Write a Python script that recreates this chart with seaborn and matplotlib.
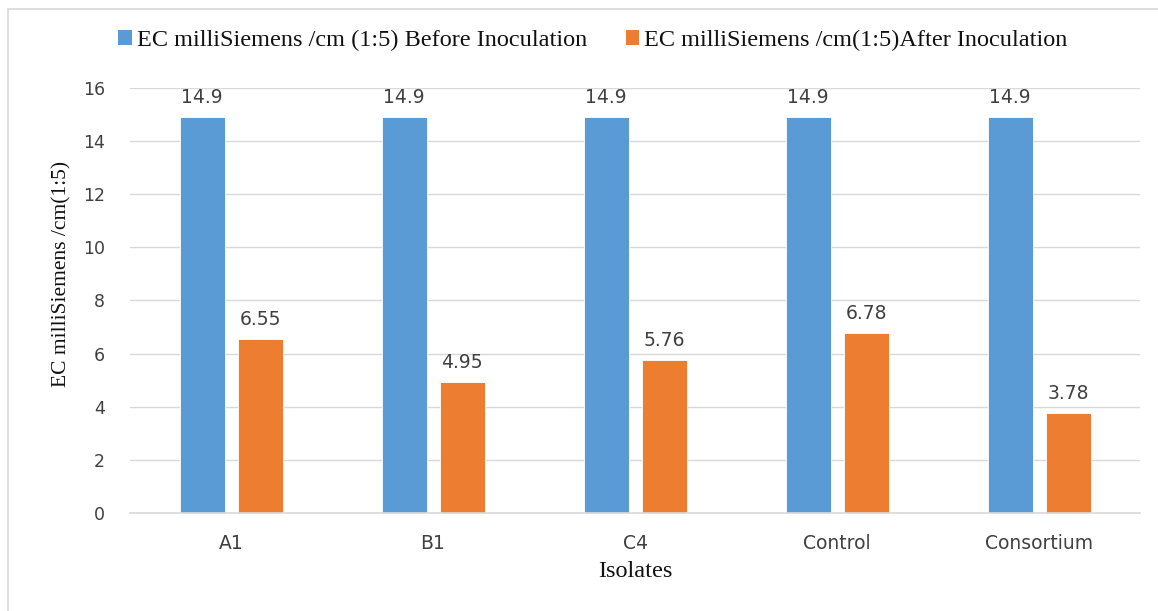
import numpy as np
import pandas as pd
import matplotlib
matplotlib.use('Agg')
import matplotlib.pyplot as plt
import seaborn as sns
from matplotlib.patches import Patch
from matplotlib.lines import Line2D

# data
isolates = ['A1', 'B1', 'C4', 'Control', 'Consortium']
before = [14.9, 14.9, 14.9, 14.9, 14.9]
after = [6.55, 4.95, 5.76, 6.78, 3.78]
series = ['EC milliSiemens /cm (1:5) Before Inoculation',
          'EC milliSiemens /cm(1:5)After Inoculation']
colors = ['#5B9BD5', '#ED7D31']
yticks = [0, 2, 4, 6, 8, 10, 12, 14, 16]

df = pd.DataFrame({
    'Isolates': isolates * 2,
    'EC': before + after,
    'Series': [series[0]] * len(isolates) + [series[1]] * len(isolates),
})

sns.set_theme(style='white')
plt.rcParams['font.family'] = ['DejaVu Sans']
serif = ['Liberation Serif', 'DejaVu Serif']
txt = '#404040'
grid = '#D9D9D9'

fig = plt.figure(figsize=(11.58, 6.11), dpi=100)
ax = fig.add_axes([0.1123, 0.1604, 0.8722, 0.6956])

sns.barplot(data=df, x='Isolates', y='EC', hue='Series', palette=colors,
            saturation=1, width=0.574, gap=0.223, edgecolor='white', linewidth=0.6,
            legend=False, ax=ax)

for cont, vals in zip(ax.containers, [before, after]):
    ax.bar_label(cont, labels=[f'{v:g}' for v in vals], padding=7,
                 fontsize=13.5, color=txt)

ax.set_ylim(0, 16)
ax.set_yticks(yticks)
ax.set_xlim(-0.5, len(isolates) - 0.5)
ax.set_xticks(np.arange(-0.5, len(isolates), 1.0), minor=True)
ax.tick_params(axis='x', which='major', length=0, pad=15, labelsize=13.5, labelcolor=txt)
ax.tick_params(axis='x', which='minor', length=6, width=1.2, color=grid, direction='out')
ax.tick_params(axis='y', length=0, pad=18, labelsize=12.5, labelcolor=txt)
ax.yaxis.grid(True, color=grid, lw=1)
ax.set_axisbelow(True)
for s in ['left', 'top', 'right']:
    ax.spines[s].set_visible(False)
ax.spines['bottom'].set_color(grid)
ax.spines['bottom'].set_linewidth(1.2)

ax.set_ylabel('EC milliSiemens /cm(1:5)', family=serif, fontsize=15.5, color='#111111')
ax.yaxis.set_label_coords(-0.058, 0.562)
ax.set_xlabel('Isolates', family=serif, fontsize=17.5, color='#111111')
ax.xaxis.set_label_coords(0.5, -0.112)

handles = [Patch(facecolor=c, edgecolor='none') for c in colors]
fig.legend(handles, series, loc='center', bbox_to_anchor=(0.512, 0.934), ncol=2,
           frameon=False, prop={'family': serif, 'size': 17.5},
           handlelength=0.55, handleheight=0.55, handletextpad=0.2, columnspacing=1.6,
           labelcolor='#111111')

# outer chart frame
fig.add_artist(Line2D([8 / 1158, 1], [1 - 9 / 611] * 2, transform=fig.transFigure, color=grid, lw=1.2))
fig.add_artist(Line2D([8 / 1158] * 2, [0, 1 - 9 / 611], transform=fig.transFigure, color=grid, lw=1.2))

fig.savefig('out.png', dpi=100)
